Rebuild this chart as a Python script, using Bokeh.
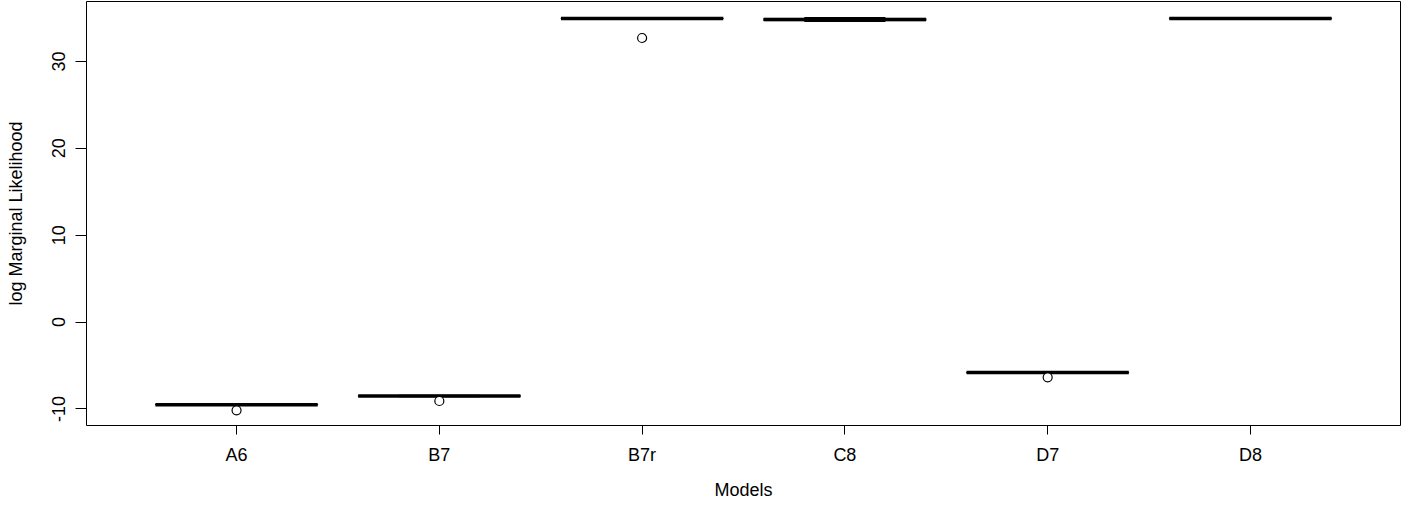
from bokeh.plotting import figure
from bokeh.models import Range1d, FixedTicker
from bokeh.embed import file_html
from bokeh.resources import INLINE

models = ["A6", "B7", "B7r", "C8", "D7", "D8"]
lower_whisker = [-9.56, -8.56, 34.88, 34.62, -5.86, 34.88]
q1 = [-9.53, -8.53, 34.91, 34.70, -5.83, 34.91]
median = [-9.50, -8.50, 34.95, 34.82, -5.80, 34.95]
q3 = [-9.47, -8.47, 34.98, 34.95, -5.77, 34.98]
upper_whisker = [-9.44, -8.44, 35.01, 35.02, -5.74, 35.01]
outlier_model = [1, 2, 3, 5]
outlier_value = [-10.15, -9.08, 32.7, -6.35]
y_ticks = [-10, 0, 10, 20, 30]

FONT = "Liberation Sans"
xs = list(range(1, len(models) + 1))

p = figure(width=1402, height=502, output_backend="svg", toolbar_location=None,
           x_range=Range1d(0.26, 6.74), y_range=Range1d(-11.9, 36.9),
           min_border_left=86, min_border_right=2, min_border_top=1, min_border_bottom=72)
p.background_fill_color = "white"
p.border_fill_color = "white"
p.outline_line_color = "black"
p.outline_line_width = 1
p.grid.visible = False

# whiskers (dashed)
p.segment(x0=xs, y0=q3, x1=xs, y1=upper_whisker, line_color="black", line_dash="4 3", line_width=1)
p.segment(x0=xs, y0=q1, x1=xs, y1=lower_whisker, line_color="black", line_dash="4 3", line_width=1)
# staples
p.segment(x0=[x - 0.2 for x in xs], y0=upper_whisker, x1=[x + 0.2 for x in xs], y1=upper_whisker,
          line_color="black", line_width=1.5)
p.segment(x0=[x - 0.2 for x in xs], y0=lower_whisker, x1=[x + 0.2 for x in xs], y1=lower_whisker,
          line_color="black", line_width=1.5)
# boxes
p.quad(left=[x - 0.4 for x in xs], right=[x + 0.4 for x in xs], bottom=q1, top=q3,
       fill_color="white", line_color="black", line_width=1)
# medians
p.segment(x0=[x - 0.4 for x in xs], y0=median, x1=[x + 0.4 for x in xs], y1=median,
          line_color="black", line_width=3.5, line_cap="butt")
# outliers
p.scatter(x=outlier_model, y=outlier_value, size=9, marker="circle",
          fill_color="white", line_color="black", line_width=1.2)

# x axis
xa = p.xaxis[0]
xa.ticker = FixedTicker(ticks=xs)
xa.major_label_overrides = {x: m for x, m in zip(xs, models)}
xa.axis_label = "Models"
xa.bounds = (1, 6)
# y axis
ya = p.yaxis[0]
ya.ticker = FixedTicker(ticks=y_ticks)
ya.major_label_overrides = {t: str(t) for t in y_ticks}
ya.axis_label = "log Marginal Likelihood"
ya.major_label_orientation = "vertical"
ya.bounds = (-10, 30)

for ax in (xa, ya):
    ax.axis_line_color = None
    ax.major_tick_line_color = "black"
    ax.major_tick_line_width = 1
    ax.major_tick_in = 0
    ax.minor_tick_line_color = None
    ax.major_label_text_font = FONT
    ax.major_label_text_font_size = "18px"
    ax.major_label_text_color = "black"
    ax.axis_label_text_font = FONT
    ax.axis_label_text_font_size = "18px"
    ax.axis_label_text_font_style = "normal"
    ax.axis_label_text_color = "black"

xa.major_tick_out = 9
ya.major_tick_out = 11
xa.major_label_standoff = 10
xa.axis_label_standoff = 12
ya.major_label_standoff = 10
ya.axis_label_standoff = 24

open("out.html", "w").write(file_html(p, INLINE))
